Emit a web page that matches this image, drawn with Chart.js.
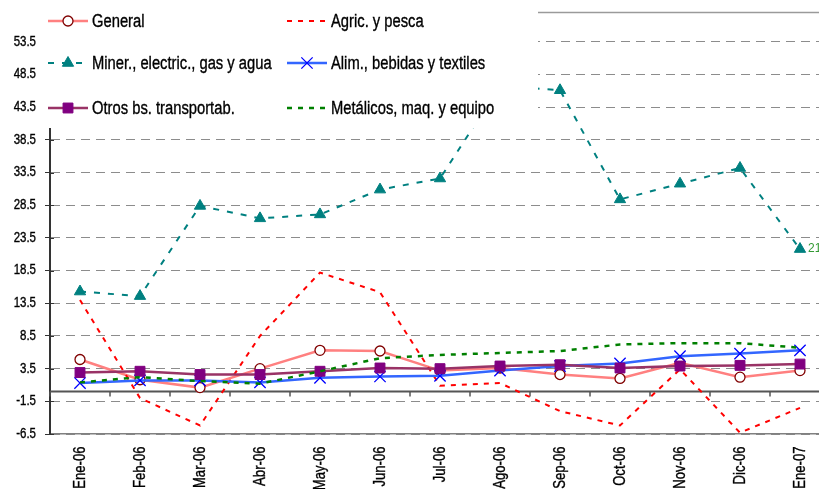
<!DOCTYPE html>
<html>
<head>
<meta charset="utf-8">
<script src="https://cdn.jsdelivr.net/npm/chart.js@4"></script>
<style>
  html, body { margin: 0; padding: 0; background: #fff; overflow: hidden; }
</style>
</head>
<body>
<canvas id="chart" width="840" height="489"></canvas>
<script>
// months and series values
const months = ['Ene-06', 'Feb-06', 'Mar-06', 'Abr-06', 'May-06', 'Jun-06', 'Jul-06',
                'Ago-06', 'Sep-06', 'Oct-06', 'Nov-06', 'Dic-06', 'Ene-07'];
const general   = [4.9, 1.8, 0.6, 3.5, 6.3, 6.2, 3.2, 3.6, 2.6, 2.0, 4.4, 2.2, 3.2];
const agric     = [14.0, -1.0, -5.2, 8.5, 18.2, 15.2, 0.9, 1.3, -3.0, -5.2, 3.4, -6.3, -2.5];
const miner     = [15.3, 14.6, 28.4, 26.5, 27.1, 30.9, 32.6, 46.8, 46.1, 29.4, 31.8, 34.2, 21.8];
const alim      = [1.3, 1.7, 1.7, 1.4, 2.1, 2.3, 2.4, 3.2, 3.9, 4.3, 5.4, 5.8, 6.3];
const otros     = [2.9, 3.1, 2.6, 2.6, 3.1, 3.6, 3.5, 3.9, 4.1, 3.6, 3.9, 4.0, 4.2];
const metalicos = [1.4, 2.2, 1.6, 1.2, 3.1, 5.1, 5.6, 5.9, 6.2, 7.2, 7.4, 7.4, 6.7];

const yTicks = [-6.5, -1.5, 3.5, 8.5, 13.5, 18.5, 23.5, 28.5, 33.5, 38.5, 43.5, 48.5, 53.5];

// no Arial Narrow here: Liberation Sans squeezed horizontally instead
const FONT = "'Liberation Sans', Arial, sans-serif";
const NARROW = 0.82;

function narrowText(ctx, text, x, y, size, align, angle) {
    ctx.save();
    ctx.translate(x, y);
    if (angle) ctx.rotate(angle);
    ctx.scale(NARROW, 1);
    ctx.font = size + 'px ' + FONT;
    ctx.textAlign = align;
    ctx.textBaseline = 'middle';
    ctx.fillText(text, 0, 0);
    // a hair of stroke to get closer to the heavier original rendering
    ctx.lineWidth = 0.35;
    ctx.strokeStyle = ctx.fillStyle;
    ctx.strokeText(text, 0, 0);
    ctx.restore();
}

// legend drawn as 2 columns x 3 rows over a white box
const legendBox = { x: 42, y: 0, w: 496, h: 128 };
const legendCols = [48, 287];
const legendRows = [21, 63, 108];

const legendPlugin = {
    id: 'boxLegend',
    afterDraw(chart) {
        const ctx = chart.ctx;
        ctx.save();
        ctx.fillStyle = '#fff';
        ctx.fillRect(legendBox.x, legendBox.y, legendBox.w, legendBox.h);
        chart.data.datasets.forEach((ds, i) => {
            const x = legendCols[i % 2];
            const y = legendRows[Math.floor(i / 2)];
            ctx.save();
            ctx.strokeStyle = ds.borderColor;
            ctx.lineWidth = ds.borderWidth;
            ctx.setLineDash(ds.borderDash || []);
            ctx.beginPath();
            ctx.moveTo(x, y);
            ctx.lineTo(x + 40, y);
            ctx.stroke();
            ctx.setLineDash([]);
            if (ds.pointRadius > 0) {
                ctx.fillStyle = ds.pointBackgroundColor;
                ctx.strokeStyle = ds.pointBorderColor;
                ctx.lineWidth = ds.pointBorderWidth;
                Chart.helpers.drawPoint(ctx, {
                    pointStyle: ds.pointStyle,
                    radius: ds.pointRadius,
                    borderWidth: ds.pointBorderWidth,
                    rotation: 0
                }, x + 20, y);
            }
            ctx.fillStyle = '#000';
            narrowText(ctx, ds.label, x + 44, y + 1, 18, 'left');
            ctx.restore();
        });
        ctx.restore();
    }
};

// zero axis line with category ticks, plot top border, tick labels, end label
const axisPlugin = {
    id: 'zeroAxis',
    beforeDatasetsDraw(chart) {
        const { ctx, chartArea, scales } = chart;
        const y0 = scales.y.getPixelForValue(0);
        const n = months.length;
        ctx.save();
        ctx.strokeStyle = '#9a9a9a';
        ctx.lineWidth = 1.5;
        ctx.beginPath();
        ctx.moveTo(chartArea.left, chartArea.top);
        ctx.lineTo(chartArea.right, chartArea.top);
        ctx.stroke();
        // inner half of the y ticks (they cross the axis)
        ctx.strokeStyle = '#333';
        ctx.lineWidth = 1;
        yTicks.forEach(v => {
            const y = Math.round(scales.y.getPixelForValue(v)) + 0.5;
            ctx.beginPath();
            ctx.moveTo(chartArea.left, y);
            ctx.lineTo(chartArea.left + 4, y);
            ctx.stroke();
        });
        ctx.strokeStyle = '#555';
        ctx.lineWidth = 2;
        ctx.beginPath();
        ctx.moveTo(chartArea.left, y0);
        ctx.lineTo(chartArea.right, y0);
        ctx.stroke();
        ctx.lineWidth = 1.5;
        for (let i = 0; i <= n; i++) {
            const x = chartArea.left + i * (chartArea.right - chartArea.left) / n;
            ctx.beginPath();
            ctx.moveTo(x, y0);
            ctx.lineTo(x, y0 + 5);
            ctx.stroke();
        }
        ctx.restore();
    },
    afterDatasetsDraw(chart) {
        const { ctx, chartArea, scales } = chart;
        ctx.save();
        ctx.fillStyle = '#000';
        yTicks.forEach(v => {
            narrowText(ctx, v.toFixed(1), chartArea.left - 14, scales.y.getPixelForValue(v), 14, 'right');
        });
        months.forEach((m, i) => {
            narrowText(ctx, m, scales.x.getPixelForValue(i) + 1, chartArea.bottom + 12.5, 16, 'right', -Math.PI / 2);
        });
        const meta = chart.getDatasetMeta(2);
        const last = meta.data[meta.data.length - 1];
        ctx.fillStyle = '#339933';
        ctx.font = '12px ' + FONT;
        ctx.textAlign = 'left';
        ctx.textBaseline = 'middle';
        ctx.fillText(miner[miner.length - 1].toFixed(1), last.x + 8, last.y);
        ctx.restore();
    }
};

const ctx = document.getElementById('chart').getContext('2d');
const chart = new Chart(ctx, {
    type: 'line',
    data: {
        labels: months,
        datasets: [
            {
                label: 'General', data: general,
                borderColor: '#ff8080', borderWidth: 2.5,
                pointStyle: 'circle', pointRadius: 5, pointBorderWidth: 1.3,
                pointBorderColor: '#800000', pointBackgroundColor: '#fff', order: 6
            },
            {
                label: 'Agric. y pesca', data: agric,
                borderColor: '#ff0000', borderWidth: 2, borderDash: [5, 6],
                pointRadius: 0, order: 5
            },
            {
                label: 'Miner., electric., gas y agua', data: miner,
                borderColor: '#008080', borderWidth: 2, borderDash: [6, 8],
                pointStyle: 'triangle', pointRadius: 6.5, pointBorderWidth: 1,
                pointBorderColor: '#008080', pointBackgroundColor: '#008080', order: 4
            },
            {
                label: 'Alim., bebidas y textiles', data: alim,
                borderColor: '#3366ff', borderWidth: 2.5,
                pointStyle: 'crossRot', pointRadius: 8, pointBorderWidth: 1.3,
                pointBorderColor: '#0000ff', pointBackgroundColor: '#0000ff', order: 3
            },
            {
                label: 'Otros bs. transportab.', data: otros,
                borderColor: '#993366', borderWidth: 2.5,
                pointStyle: 'rect', pointRadius: 7, pointBorderWidth: 1,
                pointBorderColor: '#800080', pointBackgroundColor: '#800080', order: 2
            },
            {
                label: 'Metálicos, maq. y equipo', data: metalicos,
                borderColor: '#008000', borderWidth: 2.5, borderDash: [5, 6],
                pointRadius: 0, order: 1
            }
        ]
    },
    options: {
        responsive: false,
        animation: false,
        events: [],
        layout: { padding: { top: 12.5, right: 10, left: 0, bottom: 0 } },
        plugins: { legend: { display: false }, tooltip: { enabled: false } },
        elements: { line: { tension: 0 } },
        scales: {
            x: {
                offset: true,
                grid: { display: false, drawTicks: false, offset: true },
                border: { display: true, color: '#808080', width: 1.5 },
                ticks: { display: false },
                afterFit: s => { s.height = 55; }
            },
            y: {
                min: -6.5,
                max: 58,
                afterBuildTicks: s => { s.ticks = yTicks.map(v => ({ value: v })); },
                afterFit: s => { s.width = 50; },
                grid: {
                    color: '#8c8c8c', lineWidth: 1,
                    tickLength: 5, tickColor: '#333', tickBorderDash: []
                },
                border: { display: true, color: '#333', width: 2, dash: [9, 6] },
                ticks: { display: false }
            }
        }
    },
    plugins: [axisPlugin, legendPlugin]
});
</script>
</body>
</html>
